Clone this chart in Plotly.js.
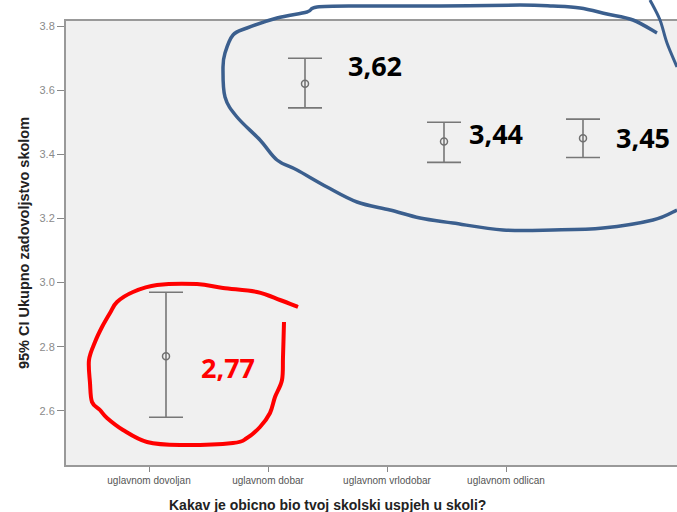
<!DOCTYPE html>
<html>
<head>
<meta charset="utf-8">
<script src="https://cdn.plot.ly/plotly-3.0.1.min.js"></script>
<style>html,body{margin:0;padding:0;background:#fff;}#chart{width:677px;height:512px;}</style>
</head>
<body>
<div id="chart"></div>
<script>
// ---- data ----
const categories = ["uglavnom dovoljan", "uglavnom dobar", "uglavnom vrlodobar", "uglavnom odlican"];
const means = [2.77, 3.62, 3.44, 3.45];
const upperCI = [2.97, 3.70, 3.50, 3.51];
const lowerCI = [2.58, 3.545, 3.375, 3.39];
const yTicks = [2.6, 2.8, 3.0, 3.2, 3.4, 3.6, 3.8];
const xTitle = 'Kakav je obicno bio tvoj skolski uspjeh u skoli?';
const yTitle = '95% CI Ukupno zadovoljstvo skolom';

// ---- geometry (pixels) ----
const W = 677, H = 512;
const M = {l: 66, r: 0, t: 21, b: 47};
const PW = W - M.l - M.r, PH = H - M.t - M.b;
const barStart = 166, barStep = 139;     // where the error bars sit
const labStart = 149, labStep = 119;     // where the category labels sit
const xRange = [-(barStart - M.l) / barStep, -(barStart - M.l) / barStep + PW / barStep];
const idx = categories.map((c, i) => i);
const tickPos = categories.map((c, i) => (labStart + i * labStep - barStart) / barStep);

const trace = {
  type: 'scatter', mode: 'markers',
  x: idx, y: means,
  marker: {symbol: 'circle-open', size: 7, color: '#707070', line: {width: 1.5, color: '#707070'}},
  error_y: {
    type: 'data', symmetric: false,
    array: means.map((m, i) => upperCI[i] - m),
    arrayminus: means.map((m, i) => m - lowerCI[i]),
    color: '#777777', thickness: 1.6, width: 17
  },
  hoverinfo: 'skip', showlegend: false
};

// hand drawn outlines (pixel points -> paper path)
function toPaper(p) { return [(p[0] - M.l) / PW, (M.t + PH - p[1]) / PH]; }
function smoothPath(pts) {
  let s = 'M ' + toPaper(pts[0]).join(',');
  for (let i = 0; i < pts.length - 1; i++) {
    const p0 = pts[Math.max(0, i - 1)], p1 = pts[i], p2 = pts[i + 1], p3 = pts[Math.min(pts.length - 1, i + 2)];
    const c1 = [p1[0] + (p2[0] - p0[0]) / 6, p1[1] + (p2[1] - p0[1]) / 6];
    const c2 = [p2[0] - (p3[0] - p1[0]) / 6, p2[1] - (p3[1] - p1[1]) / 6];
    s += ' C ' + toPaper(c1).join(',') + ' ' + toPaper(c2).join(',') + ' ' + toPaper(p2).join(',');
  }
  return s;
}
const blueLoop = [[657,33],[633,20],[607,14],[580,8],[553,6],[520,5],[440,6],[360,6],[317,7],[307,12],[277,18],[247,28],[233,35],[225,53],[223,67],[225,97],[237,117],[260,140],[277,160],[297,170],[327,187],[357,202],[390,210],[420,218],[453,223],[503,230],[553,230],[603,228],[653,220],[677,210]];
const blueLine = [[650,0],[660,20],[667,43],[677,67]];
const redLoop = [[298,307],[280,300],[257,292],[223,288],[197,284],[157,285],[133,292],[117,302],[110,313],[102,327],[95,342],[89,360],[90,383],[92,402],[100,410],[107,418],[123,430],[147,442],[180,445],[233,443],[247,438],[260,427],[270,413],[275,397],[282,380],[283,357],[284,322]];
const blue = '#3b5f8e';
const shapes = [
  {type: 'path', xref: 'paper', yref: 'paper', path: smoothPath(blueLoop), line: {color: blue, width: 3.5}},
  {type: 'path', xref: 'paper', yref: 'paper', path: smoothPath(blueLine), line: {color: blue, width: 3}},
  {type: 'path', xref: 'paper', yref: 'paper', path: smoothPath(redLoop), line: {color: '#ff0000', width: 4}}
];

// value labels
const offsets = [[62, -11], [70, 18], [52, 8], [60, 1]];
const annotations = means.map((m, i) => ({
  x: idx[i], y: m, xref: 'x', yref: 'y',
  text: m.toFixed(2).replace('.', ','),
  showarrow: false, xshift: offsets[i][0], yshift: offsets[i][1],
  font: {family: 'Open Sans, sans-serif', size: 27, weight: 'bold', color: i === 0 ? '#ff0000' : '#000'}
}));
// x axis title, centred under the category labels
annotations.push({
  xref: 'paper', yref: 'paper',
  x: ((labStart + labStep * (categories.length - 1) / 2) - M.l) / PW, y: 0,
  yshift: -(H - M.b - M.t) * 0 - 40, yanchor: 'middle', xanchor: 'center',
  text: xTitle, showarrow: false,
  font: {family: 'Liberation Sans, Arial, sans-serif', size: 14, weight: 'bold', color: '#222'}
});

const layout = {
  width: W, height: H,
  margin: M,
  paper_bgcolor: '#ffffff', plot_bgcolor: '#f0f0f0',
  showlegend: false,
  xaxis: {
    type: 'linear', range: xRange, fixedrange: true,
    tickmode: 'array', tickvals: tickPos, ticktext: categories,
    ticks: 'outside', ticklen: 5, tickcolor: '#888', tickwidth: 1,
    tickfont: {family: 'Liberation Sans, Arial, sans-serif', size: 10, color: '#555'},
    showgrid: false, zeroline: false,
    showline: true, linecolor: '#999', linewidth: 2, mirror: true
  },
  yaxis: {
    range: [2.431, 3.816], fixedrange: true,
    tickmode: 'array', tickvals: yTicks, ticktext: yTicks.map(v => v.toFixed(1)),
    ticks: 'outside', ticklen: 7, tickcolor: '#888', tickwidth: 1,
    tickfont: {family: 'Liberation Sans, Arial, sans-serif', size: 11, color: '#8a8a8a'},
    showgrid: false, zeroline: false,
    showline: true, linecolor: '#999', linewidth: 2, mirror: false,
    title: {text: yTitle, standoff: 6,
            font: {family: 'Liberation Sans, Arial, sans-serif', size: 14.5, weight: 'bold', color: '#222'}}
  },
  shapes: shapes,
  annotations: annotations
};

Plotly.newPlot('chart', [trace], layout, {displayModeBar: false, staticPlot: true});
</script>
</body>
</html>
